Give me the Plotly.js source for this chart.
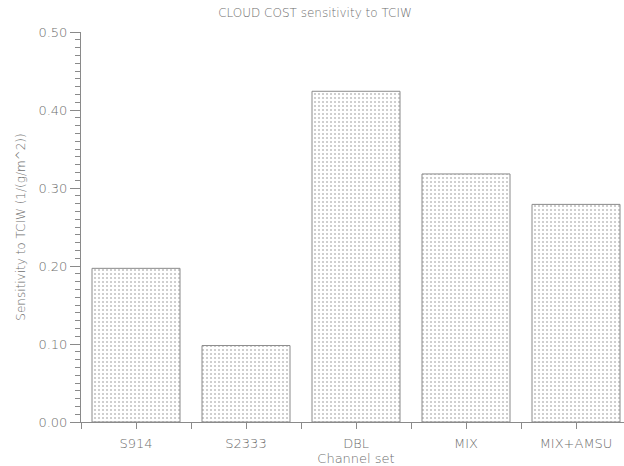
<!DOCTYPE html>
<html>
<head>
<meta charset="utf-8">
<script src="https://cdn.plot.ly/plotly-3.0.1.min.js"></script>
<style>
html,body{margin:0;padding:0;overflow:hidden;background:#fff;}
#chart{width:640px;height:466px;}
</style>
</head>
<body>
<div id="chart"></div>
<script>
const categories = ["S914", "S2333", "DBL", "MIX", "MIX+AMSU"];
const sensitivity = [0.197, 0.098, 0.424, 0.318, 0.279];
const yTickLabels = ["0.00", "0.10", "0.20", "0.30", "0.40", "0.50"];
const yTickValues = [0, 0.1, 0.2, 0.3, 0.4, 0.5];

const xPos = categories.map((c, i) => i);
const xTickVals = [];
const xTickText = [];
for (let i = 0; i < categories.length; i++) {
  xTickVals.push(i - 0.5); xTickText.push("");
  xTickVals.push(i); xTickText.push(categories[i]);
}
xTickVals.push(categories.length - 0.5); xTickText.push("");

const txt = "#6e6e6e";
const fontFam = "DejaVu Sans, sans-serif";
const w = 300;

const data = [{
  type: "bar",
  x: xPos,
  y: sensitivity,
  width: 0.8,
  marker: {
    color: "#ffffff",
    line: {color: "#8a8a8a", width: 1},
    pattern: {shape: ".", size: 4, solidity: 0.2, fgcolor: "#c0c0c0", bgcolor: "#ffffff", fillmode: "replace"}
  },
  hoverinfo: "skip"
}];

const layout = {
  width: 640,
  height: 466,
  margin: {l: 81, r: 9, t: 32, b: 44},
  paper_bgcolor: "#ffffff",
  plot_bgcolor: "#ffffff",
  showlegend: false,
  font: {family: fontFam, size: 12, color: txt, weight: w},
  title: {
    text: "CLOUD COST sensitivity to TCIW",
    font: {family: fontFam, size: 12, color: txt, weight: w},
    xref: "container", x: 315 / 640, xanchor: "center",
    yref: "container", y: 1 - 13 / 466, yanchor: "middle"
  },
  xaxis: {
    range: [-0.5, categories.length - 0.5],
    tickmode: "array",
    tickvals: xTickVals,
    ticktext: xTickText,
    ticks: "outside",
    ticklen: 6,
    tickcolor: "#8a8a8a",
    ticklabelstandoff: 3,
    showline: true,
    linecolor: "#8a8a8a",
    linewidth: 1,
    showgrid: false,
    zeroline: false,
    tickfont: {family: fontFam, size: 13, color: txt, weight: w},
    title: {text: "Channel set", font: {family: fontFam, size: 13, color: txt, weight: w}, standoff: 3}
  },
  yaxis: {
    range: [0, 0.5],
    tickmode: "array",
    tickvals: yTickValues,
    ticktext: yTickLabels,
    ticks: "outside",
    ticklen: 10,
    tickcolor: "#8a8a8a",
    showline: true,
    linecolor: "#8a8a8a",
    linewidth: 1,
    showgrid: false,
    zeroline: false,
    minor: {dtick: 0.01, tick0: 0, ticks: "outside", ticklen: 5, tickcolor: "#8a8a8a", showgrid: false},
    tickfont: {family: fontFam, size: 13, color: txt, weight: w},
    title: {text: "Sensitivity to TCIW (1/(g/m^2))", font: {family: fontFam, size: 12, color: txt, weight: w}, standoff: 10}
  }
};

Plotly.newPlot("chart", data, layout, {staticPlot: true, displayModeBar: false});
</script>
</body>
</html>
